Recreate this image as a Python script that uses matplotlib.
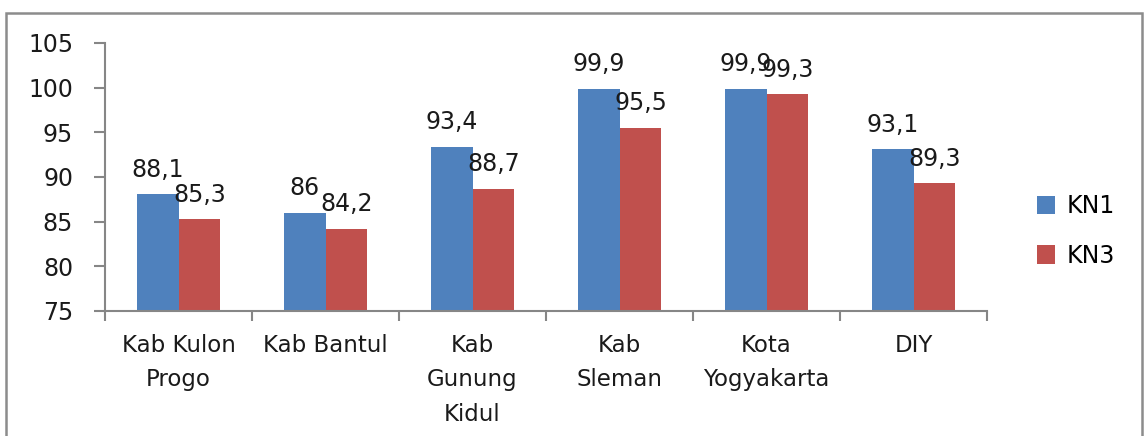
import numpy as np
from matplotlib import pyplot as plt
from matplotlib.patches import Rectangle

categories = ['Kab Kulon\nProgo', 'Kab Bantul', 'Kab\nGunung\nKidul', 'Kab\nSleman', 'Kota\nYogyakarta', 'DIY']
kn1 = [88.1, 86, 93.4, 99.9, 99.9, 93.1]
kn3 = [85.3, 84.2, 88.7, 95.5, 99.3, 89.3]
series_names = ['KN1', 'KN3']

plt.rcParams['font.family'] = ['DejaVu Sans']
blue = '#4F81BD'
red = '#C0504D'
grey = '#868686'

fig = plt.figure(figsize=(11.44, 4.36), dpi=100)
ax = fig.add_axes([0.0918, 0.2867, 0.771, 0.6147])

x = np.arange(len(categories))
w = 0.285
ax.bar(x - w/2, np.array(kn1) - 75, w, bottom=75, color=blue, label=series_names[0])
ax.bar(x + w/2, np.array(kn3) - 75, w, bottom=75, color=red, label=series_names[1])

for xs, vals in ((x - w/2, kn1), (x + w/2, kn3)):
    for xi, v in zip(xs, vals):
        txt = ('%g' % v).replace('.', ',')
        ax.annotate(txt, (xi, v), xytext=(0, 12.5), textcoords='offset points',
                    ha='center', va='baseline', fontsize=17, color='#1a1a1a')

ax.set_xlim(-0.5, 5.5)
ax.set_ylim(75, 105)
ax.set_yticks(range(75, 106, 5))
ax.tick_params(axis='y', labelsize=17, length=8, width=1.5, color=grey, pad=15, labelcolor='#1a1a1a')

ax.set_xticks(np.arange(-0.5, 6, 1))
ax.set_xticklabels([])
ax.tick_params(axis='x', length=7, width=1.5, color=grey)
for xi, lab in zip(x, categories):
    ax.text(xi, 72.4, lab, ha='center', va='top', fontsize=16.5, linespacing=1.62, color='#1a1a1a')

for s in ['top', 'right']:
    ax.spines[s].set_visible(False)
for s in ['left', 'bottom']:
    ax.spines[s].set_color(grey)
    ax.spines[s].set_linewidth(1.5)

ax.legend(loc='center left', bbox_to_anchor=(0.888, 0.47), bbox_transform=fig.transFigure,
          frameon=False, fontsize=17, handlelength=0.75, handleheight=0.85,
          handletextpad=0.5, labelspacing=1.1)

fig.patches.append(Rectangle((6/1144, -0.1), 1136/1144, 1.1 - 13/436, transform=fig.transFigure,
                             fill=False, edgecolor='#8c8c8c', lw=1.8))

fig.savefig('out.png', dpi=100)
